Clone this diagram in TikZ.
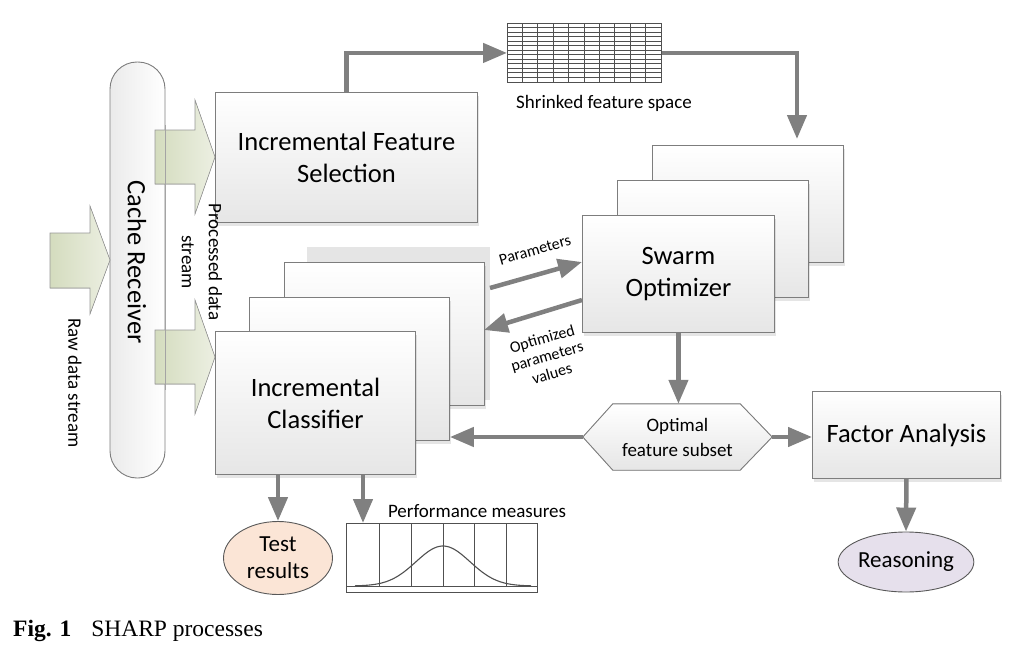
\documentclass[tikz,border=0pt]{standalone}
\usepackage{fontspec}
\setmainfont{Carlito}
\newfontfamily\capfont{Liberation Serif}
\usetikzlibrary{arrows.meta,shapes.geometric,shadows}
\definecolor{bordergray}{RGB}{125,125,125}
\definecolor{arrowgray}{RGB}{128,128,128}
\definecolor{boxbot}{RGB}{230,230,230}
\definecolor{greenL}{RGB}{212,220,190}
\definecolor{greenR}{RGB}{236,239,226}
\definecolor{peach}{RGB}{251,229,214}
\definecolor{lavender}{RGB}{230,224,236}
\definecolor{gridgray}{RGB}{80,80,80}
\newcommand\bigfnt{\fontsize{26.5}{32}\selectfont}
\newcommand\midfnt{\fontsize{23}{27}\selectfont}
\newcommand\smlfnt{\fontsize{19}{25}\selectfont}
\newcommand\tinyfnt{\fontsize{16}{18}\selectfont}
\begin{document}
\begin{tikzpicture}[x=1pt,y=-1pt,
  card/.style={draw=bordergray, line width=0.9pt, top color=white, bottom color=boxbot,
    inner sep=0pt, anchor=north west, align=center, font=\bigfnt,
    drop shadow={shadow xshift=2pt, shadow yshift=-4pt, fill=black, opacity=0.10}},
  flow/.style={draw=arrowgray, line width=4.5pt, -{Triangle[length=24pt,width=19pt]}},
  greenarrow/.style={draw=bordergray!80, line width=0.6pt, left color=greenL, right color=greenR},
  lbl/.style={font=\smlfnt, align=center, inner sep=0pt},
  oval/.style={ellipse, draw=bordergray!70!black, line width=0.9pt, inner sep=0pt, align=center, font=\midfnt},
  gridline/.style={draw=gridgray, line width=0.9pt}
]
\useasboundingbox (0,0) rectangle (1021,645);

% cache receiver
\node[draw=bordergray, line width=0.9pt, rounded corners=27pt, minimum width=55pt, minimum height=416pt,
      left color=gray!16, right color=white, inner sep=0pt] (cache) at (137.5,270) {};
\node[rotate=-90, font=\bigfnt, inner sep=0pt] (cachelabel) at (137,262) {Cache Receiver};

% green block arrows
\filldraw[greenarrow] (50,233) -- (90,233) -- (90,206) -- (110,260) -- (90,314) -- (90,288) -- (50,288) -- cycle;
\filldraw[greenarrow] (155,130) -- (195,130) -- (195,100) -- (215,157) -- (195,214) -- (195,184) -- (155,184) -- cycle;
\filldraw[greenarrow] (155,330) -- (195,330) -- (195,300) -- (215,357) -- (195,414) -- (195,384) -- (155,384) -- cycle;
% pill outline showing through the translucent arrows
\draw[bordergray!70, line width=0.8pt] (cache.east |- 0,125) -- (cache.east |- 0,390);

\node[rotate=-90, lbl] (rawlabel) at (75,383) {Raw data stream};

% incremental feature selection
\node[card, minimum width=262pt, minimum height=130pt] (ifs) at (215,92) {Incremental Feature\\Selection};
\node[rotate=-90, lbl, font=\fontsize{19}{27}\selectfont] (proclabel) at (202,262) {Processed data\\stream};

% feature grid
\node[gridline, fill=white, minimum width=154pt, minimum height=59pt, inner sep=0pt, anchor=north west] (grid) at (507,23) {};
\foreach \i in {1,...,9} \draw[gridline] (507+15.4*\i,23) -- ++(0,59);
\foreach \j in {1,...,12} \draw[gridline] (507,23+4.538*\j) -- ++(154,0);
\node[lbl] (gridlabel) at (604,103) {Shrinked feature space};

% classifier stack
\fill[gray!20] (307,247) rectangle (490,400);
\node[card, minimum width=200pt, minimum height=143pt] (cls3) at (284,262) {};
\node[card, minimum width=200pt, minimum height=143pt] (cls2) at (249,297) {};
\node[card, minimum width=200pt, minimum height=143pt] (cls1) at (215,331) {Incremental\\Classifier};

% swarm stack
\node[card, minimum width=191pt, minimum height=117pt] (sw3) at (652,145) {};
\node[card, minimum width=191pt, minimum height=117pt] (sw2) at (617,180) {};
\node[card, minimum width=192pt, minimum height=117pt] (sw1) at (582,215) {Swarm\\Optimizer};

% optimal feature subset hexagon
\node[minimum width=189pt, minimum height=66pt, inner sep=0pt] (opt) at (677.5,437) {};
\filldraw[draw=bordergray, line width=0.9pt, top color=white, bottom color=boxbot]
  (opt.west) -- ([xshift=30pt]opt.north west) -- ([xshift=-32pt]opt.north east) -- (opt.east)
  -- ([xshift=-32pt]opt.south east) -- ([xshift=30pt]opt.south west) -- cycle;
\node[lbl] (optlabel) at (opt.center) {Optimal\\feature subset};

% factor analysis
\node[card, minimum width=188pt, minimum height=87pt] (fa) at (812,391) {Factor Analysis};

% ovals
\node[oval, fill=peach, minimum width=109pt, minimum height=73pt] (test) at (278,558) {Test\\results};
\node[oval, fill=lavender, minimum width=135pt, minimum height=60pt] (reason) at (906,562) {Reasoning};

% performance chart
\node[gridline, fill=white, minimum width=191pt, minimum height=69pt, inner sep=0pt, anchor=north west] (perf) at (346,523) {};
\draw[gridline] (346,586) -- (537,586);
\foreach \x in {379,411,443,474,506} \draw[gridline] (\x,523) -- (\x,586);
\draw[gridline, line width=1.1pt] plot[domain=355:531, samples=70, smooth]
  (\x, {586-40*exp(-((\x-443)/27)*((\x-443)/27)/2)});
\node[lbl] (perflabel) at (477,511) {Performance measures};

% flow arrows
\coordinate (swin) at (797,139);
\coordinate (perfin) at (363,523);
\coordinate (pA) at (490,288);
\coordinate (pB) at (582,262);
\coordinate (oA) at (582,300);
\coordinate (oB) at (484,330);
\draw[flow] (ifs.north) |- (grid.west);
\draw[flow] (grid.east) -| (swin);
\draw[flow] (pA) -- (pB);
\draw[flow] (oA) -- (oB);
\draw[flow] (sw1.south) -- (sw1.south |- opt.north);
\draw[flow] (opt.west) -- (cls2.east |- opt.west);
\draw[flow] (opt.east) -- (opt.east -| fa.west);
\draw[flow] (fa.south) -- (reason.north);
\draw[flow] (test.north |- cls1.south) -- (test.north);
\draw[flow] (perfin |- cls1.south) -- (perfin);

\node[rotate=16, font=\tinyfnt, inner sep=0pt] (parlabel) at (535,250) {Parameters};
\node[rotate=16, font=\tinyfnt, align=center, inner sep=0pt] (optparlabel) at (547,356) {Optimized\\parameters\\values};

% caption
\node[anchor=base west, inner sep=0pt, font=\capfont\fontsize{23.5}{28}\selectfont] (caption) at (13,636)
  {\textbf{Fig. 1}\hspace{20pt}SHARP processes};
\end{tikzpicture}
\end{document}
